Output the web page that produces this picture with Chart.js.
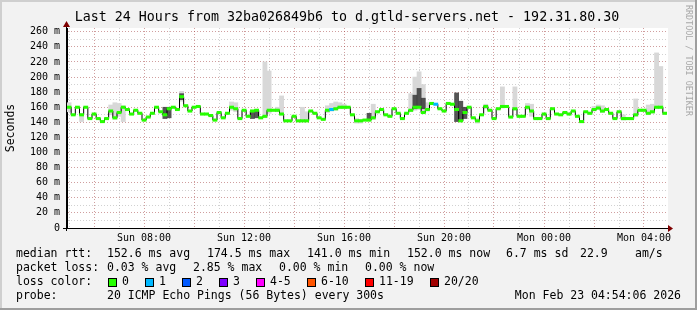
<!DOCTYPE html>
<html>
<head>
<meta charset="utf-8">
<script src="https://cdn.jsdelivr.net/npm/chart.js@4.4.0/dist/chart.umd.min.js"></script>
<style>
  html, body { margin: 0; padding: 0; background: #f2f2f2; }
  #wrap { width: 697px; height: 310px; }
</style>
</head>
<body>
<div id="wrap"><canvas id="chart" width="697" height="310"></canvas></div>
<script>
// one median value per 10 minutes, hours counted from Sun 00:00
const startHour = 4.92;
const stepHours = 1 / 6;

const medianMs = [
  160, 150, 160, 150, 160, 145, 151, 145, 141, 145, 155, 146, 153, 160, 157, 151, 156, 152, 143, 147,
  152, 160, 154, 150, 158, 160, 157, 174, 162, 155, 160, 161, 151, 151, 149, 143, 153, 146, 152, 160,
  158, 145, 156, 148, 155, 156, 146, 148, 156, 156, 156, 151, 142, 142, 148, 142, 142, 142, 155, 152,
  146, 144, 156, 157, 158, 160, 160, 160, 150, 142, 142, 143, 143, 146, 154, 157, 150, 148, 158, 152,
  145, 152, 156, 160, 160, 153, 157, 165, 164, 158, 155, 165, 164, 157, 142, 153, 160, 146, 142, 150,
  161, 156, 145, 158, 161, 161, 147, 158, 148, 148, 160, 155, 145, 145, 151, 145, 158, 151, 150, 153,
  151, 155, 148, 141, 154, 152, 157, 159, 155, 157, 152, 145, 154, 145, 145, 145, 150, 156, 156, 152,
  154, 160, 160, 152
];

// steps with packet loss (number of lost pings)
const lossIdx = [63, 88];
const lossLevel = [1, 1];

// light smoke: spread of the pings
const smokeIdx = [0, 3, 10, 11, 12, 13, 27, 39, 40, 47, 48, 50, 51, 56, 57, 62, 63, 64, 65, 66, 69, 70, 73,
  82, 83, 84, 85, 86, 98, 100, 104, 107, 110, 111, 126, 127, 128, 133, 136, 139, 140, 141, 142];
const smokeLo = [154, 141, 150, 144, 148, 141, 168, 156, 154, 146, 152, 154, 150, 141, 141, 153, 155, 156, 158, 158, 139, 139, 144,
  154, 156, 157, 152, 155, 139, 158, 159, 156, 157, 148, 155, 157, 153, 143, 148, 150, 152, 158, 158];
const smokeHi = [166, 152, 163, 166, 165, 162, 181, 167, 166, 220, 208, 160, 175, 160, 154, 162, 165, 167, 166, 164, 145, 144, 164,
  178, 200, 207, 190, 166, 145, 164, 187, 187, 165, 164, 161, 163, 162, 150, 171, 163, 164, 232, 214];

// dark smoke: where many pings pile up
const darkIdx = [23, 24, 27, 44, 45, 72, 83, 84, 85, 93, 94, 95];
const darkLo = [145, 146, 170, 145, 146, 144, 158, 160, 158, 141, 142, 145];
const darkHi = [160, 160, 178, 156, 155, 152, 176, 185, 172, 179, 168, 160];

const yGrid = [0, 10, 20, 30, 40, 50, 60, 70, 80, 90, 100, 110, 120, 130, 140, 150, 160, 170, 180, 190, 200, 210, 220, 230, 240, 250, 260];
const yLabelValues = [0, 20, 40, 60, 80, 100, 120, 140, 160, 180, 200, 220, 240, 260];
const yLabelText = ['0', '20 m', '40 m', '60 m', '80 m', '100 m', '120 m', '140 m', '160 m', '180 m', '200 m', '220 m', '240 m', '260 m'];

const xGrid = [5, 6, 7, 8, 9, 10, 11, 12, 13, 14, 15, 16, 17, 18, 19, 20, 21, 22, 23, 24, 25, 26, 27, 28];
const xLabelHours = [8, 12, 16, 20, 24, 28];
const xLabelText = ['Sun 08:00', 'Sun 12:00', 'Sun 16:00', 'Sun 20:00', 'Mon 00:00', 'Mon 04:00'];

const lossNames = ['0', '1', '2', '3', '4-5', '6-10', '11-19', '20/20'];
const lossColors = ['#26ff00', '#00b8ff', '#0059ff', '#7e00ff', '#ff00ff', '#ff5500', '#ff0000', '#a10000'];

const titleText = 'Last 24 Hours from 32ba026849b6 to d.gtld-servers.net - 192.31.80.30';
const rttStats = ['152.6 ms avg', '174.5 ms max', '141.0 ms min', '152.0 ms now', '6.7 ms sd', '22.9', 'am/s'];
const lossStats = ['0.03 % avg', '2.85 % max', '0.00 % min', '0.00 % now'];
const probeText = '20 ICMP Echo Pings (56 Bytes) every 300s';
const stampText = 'Mon Feb 23 04:54:06 2026';

const MONO = '"DejaVu Sans Mono", monospace';
const n = medianMs.length;
const lossAt = medianMs.map(() => 0);
lossIdx.forEach((p, k) => { lossAt[p] = lossLevel[k]; });

const stepStart = i => startHour + i * stepHours;
const stepMid = i => stepStart(i) + stepHours / 2;

const barOpts = { type: 'bar', grouped: false, barPercentage: 1, categoryPercentage: 1, borderWidth: 0 };

const rrdFrame = {
  id: 'rrdFrame',
  beforeDraw(chart) {
    const { ctx, chartArea: a, width, height } = chart;
    ctx.save();
    ctx.fillStyle = '#f2f2f2';
    ctx.fillRect(0, 0, width, height);
    ctx.fillStyle = '#cfcfcf';
    ctx.fillRect(0, 0, width, 2);
    ctx.fillRect(0, 0, 2, height);
    ctx.fillStyle = '#9e9e9e';
    ctx.fillRect(0, height - 2, width, 2);
    ctx.fillRect(width - 2, 0, 2, height);
    ctx.fillStyle = '#ffffff';
    ctx.fillRect(a.left, a.top, a.right - a.left + 1, a.bottom - a.top);
    ctx.restore();
  },
  afterDraw(chart) {
    const { ctx, chartArea: a } = chart;
    ctx.save();
    // axes with arrows
    ctx.strokeStyle = '#000';
    ctx.lineWidth = 1;
    ctx.beginPath();
    ctx.moveTo(63, a.bottom + 0.5);
    ctx.lineTo(a.right + 2, a.bottom + 0.5);
    ctx.moveTo(a.left - 0.5, a.bottom + 3);
    ctx.lineTo(a.left - 0.5, a.top - 2);
    ctx.stroke();
    ctx.fillStyle = '#7f0000';
    ctx.beginPath();
    ctx.moveTo(a.right + 1, a.bottom - 3);
    ctx.lineTo(a.right + 6, a.bottom + 0.5);
    ctx.lineTo(a.right + 1, a.bottom + 4);
    ctx.closePath();
    ctx.fill();
    ctx.beginPath();
    ctx.moveTo(a.left - 4, a.top - 1);
    ctx.lineTo(a.left - 0.5, a.top - 7);
    ctx.lineTo(a.left + 3, a.top - 1);
    ctx.closePath();
    ctx.fill();

    // title
    ctx.fillStyle = '#000';
    ctx.textBaseline = 'middle';
    ctx.textAlign = 'center';
    ctx.font = '13.3px ' + MONO;
    ctx.fillText(titleText, 347, 18);

    // watermark
    ctx.save();
    ctx.translate(688, 5);
    ctx.rotate(Math.PI / 2);
    ctx.textAlign = 'left';
    ctx.fillStyle = '#a8a8a8';
    ctx.font = '8.4px ' + MONO;
    ctx.fillText('RRDTOOL / TOBI OETIKER', 0, 0);
    ctx.restore();

    // legend
    ctx.textAlign = 'left';
    ctx.font = '11.5px ' + MONO;
    ctx.fillText('median rtt:', 16, 254);
    [107, 207, 307, 407, 506, 580, 635].forEach((x, k) => ctx.fillText(rttStats[k], x, 254));
    ctx.fillText('packet loss:', 16, 268);
    [107, 193, 279, 365].forEach((x, k) => ctx.fillText(lossStats[k], x, 268));
    ctx.fillText('loss color:', 16, 282);
    [108, 145, 182, 219, 256, 307, 365, 430].forEach((x, k) => {
      ctx.fillStyle = lossColors[k];
      ctx.fillRect(x, 278, 8, 8);
      ctx.strokeStyle = '#000';
      ctx.strokeRect(x + 0.5, 278.5, 8, 8);
      ctx.fillStyle = '#000';
      ctx.fillText(lossNames[k], x + 14, 282);
    });
    ctx.fillText('probe:', 16, 296);
    ctx.fillText(probeText, 107, 296);
    ctx.textAlign = 'right';
    ctx.fillText(stampText, 681, 296);
    ctx.restore();
  }
};

new Chart(document.getElementById('chart'), {
  type: 'bar',
  data: {
    datasets: [
      Object.assign({}, barOpts, {
        label: 'median',
        data: medianMs.map((v, i) => ({ x: stepMid(i), y: [v - 1.6, v + 1.6] })),
        backgroundColor: medianMs.map((v, i) => lossColors[lossAt[i]]),
        order: 0
      }),
      {
        type: 'line',
        label: 'median line',
        data: medianMs.map((v, i) => ({ x: stepStart(i), y: v })).concat([{ x: stepStart(n), y: medianMs[n - 1] }]),
        stepped: true,
        borderColor: '#000',
        borderWidth: 1,
        pointRadius: 0,
        fill: false,
        order: 1
      },
      Object.assign({}, barOpts, {
        label: 'dark smoke',
        data: darkIdx.map((p, k) => ({ x: stepMid(p), y: [darkLo[k], darkHi[k]] })),
        backgroundColor: 'rgba(55,55,55,0.85)',
        order: 2
      }),
      Object.assign({}, barOpts, {
        label: 'smoke',
        data: smokeIdx.map((p, k) => ({ x: stepMid(p), y: [smokeLo[k], smokeHi[k]] })),
        backgroundColor: '#d8d8d8',
        order: 3
      })
    ]
  },
  options: {
    responsive: false,
    animation: false,
    devicePixelRatio: 1,
    layout: { padding: { top: 28, right: 30, bottom: 0, left: 0 } },
    plugins: { legend: { display: false }, tooltip: { enabled: false }, title: { display: false } },
    scales: {
      x: {
        type: 'linear',
        min: startHour,
        max: startHour + 24,
        offset: false,
        afterBuildTicks: s => { s.ticks = xGrid.map(v => ({ value: v })); },
        afterFit: s => { s.height = 82; },
        grid: {
          offset: false,
          drawTicks: false,
          lineWidth: 1,
          color: c => (c.tick && c.tick.value % 2 === 0) ? 'rgba(150,40,40,0.45)' : 'rgba(140,140,140,0.4)'
        },
        border: { color: '#000', dash: [1, 2] },
        ticks: {
          autoSkip: false,
          maxRotation: 0,
          padding: 4,
          color: '#000',
          font: { family: MONO, size: 10 },
          callback: v => { const k = xLabelHours.indexOf(v); return k < 0 ? '' : xLabelText[k]; }
        }
      },
      y: {
        min: 0,
        max: 265,
        afterBuildTicks: s => { s.ticks = yGrid.map(v => ({ value: v })); },
        afterFit: s => { s.width = 67; },
        grid: {
          drawTicks: false,
          lineWidth: 1,
          color: c => (c.tick && c.tick.value % 20 === 0) ? 'rgba(150,40,40,0.45)' : 'rgba(140,140,140,0.4)'
        },
        border: { color: '#000', dash: [1, 2] },
        ticks: {
          autoSkip: false,
          padding: 7,
          color: '#000',
          font: { family: MONO, size: 10 },
          callback: v => { const k = yLabelValues.indexOf(v); return k < 0 ? '' : yLabelText[k]; }
        },
        title: {
          display: true,
          text: 'Seconds',
          color: '#000',
          font: { family: MONO, size: 11.5 },
          padding: { top: 4, bottom: 0 }
        }
      }
    }
  },
  plugins: [rrdFrame]
});
</script>
</body>
</html>
